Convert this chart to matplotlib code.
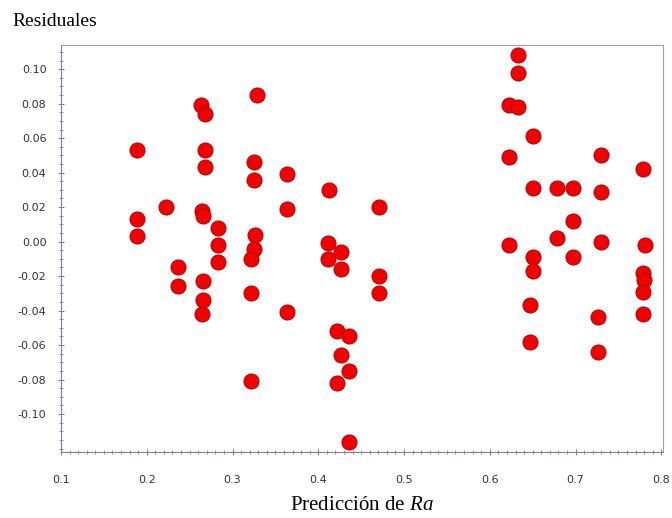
import numpy as np
import matplotlib.pyplot as plt
from matplotlib.ticker import MultipleLocator, FormatStrFormatter

plt.rcParams['axes.unicode_minus'] = False
plt.rcParams['mathtext.fontset'] = 'custom'
plt.rcParams['mathtext.it'] = 'Liberation Serif:italic'
plt.rcParams['mathtext.rm'] = 'Liberation Serif'

# predicted Ra and residuals
pred = [0.189, 0.189, 0.189, 0.223, 0.263, 0.268, 0.268, 0.268, 0.264, 0.266,
        0.283, 0.283, 0.283, 0.237, 0.237, 0.265, 0.265, 0.264,
        0.328, 0.325, 0.325, 0.326, 0.325, 0.322, 0.322, 0.322,
        0.363, 0.363, 0.363,
        0.412, 0.411, 0.427, 0.411, 0.427,
        0.422, 0.436, 0.427, 0.436, 0.422, 0.436,
        0.471, 0.471, 0.471,
        0.633, 0.633, 0.622, 0.633, 0.650, 0.622, 0.650, 0.678, 0.697,
        0.730, 0.730, 0.779, 0.697, 0.678, 0.622, 0.730, 0.781, 0.697,
        0.650, 0.650, 0.779, 0.780, 0.779, 0.779, 0.647, 0.726, 0.647, 0.726]
resid = [0.053, 0.013, 0.003, 0.020, 0.079, 0.074, 0.053, 0.043, 0.018, 0.015,
         0.008, -0.002, -0.012, -0.015, -0.026, -0.023, -0.034, -0.042,
         0.085, 0.046, 0.036, 0.004, -0.004, -0.010, -0.030, -0.081,
         0.039, 0.019, -0.041,
         0.030, -0.001, -0.006, -0.010, -0.016,
         -0.052, -0.055, -0.066, -0.075, -0.082, -0.116,
         0.020, -0.020, -0.030,
         0.108, 0.098, 0.079, 0.078, 0.061, 0.049, 0.031, 0.031, 0.031,
         0.050, 0.029, 0.042, 0.012, 0.002, -0.002, 0.000, -0.002, -0.009,
         -0.009, -0.017, -0.018, -0.022, -0.029, -0.042, -0.037, -0.044, -0.058, -0.064]

fig = plt.figure(figsize=(6.72, 5.18), dpi=100)
ax = fig.add_axes([0.0908, 0.1274, 0.8958, 0.7857])

ax.scatter(pred, resid, s=118, c='#f00000', edgecolors='#b80000', linewidths=0.7, zorder=3)

ax.set_xlim(0.1, 0.802)
ax.set_ylim(-0.122, 0.114)
ax.xaxis.set_major_locator(MultipleLocator(0.1))
ax.xaxis.set_minor_locator(MultipleLocator(0.01))
ax.yaxis.set_minor_locator(MultipleLocator(0.005))
ax.xaxis.set_major_formatter(FormatStrFormatter('%.1f'))
ax.yaxis.set_major_formatter(FormatStrFormatter('%.2f'))
ax.set_yticks(np.arange(-0.10, 0.101, 0.02))

for side in ['top', 'right']:
    ax.spines[side].set_color('#a0a0a8')
for side in ['left', 'bottom']:
    ax.spines[side].set_color('#8a7a98')
ax.tick_params(which='major', direction='inout', length=5, color='#8a7a98',
               labelsize=8, labelcolor='#333333', pad=8)
ax.tick_params(axis='x', which='major', pad=14)
ax.tick_params(which='minor', direction='inout', length=3, color='#8a7a98')

fig.text(12 / 672, 1 - 22 / 518, 'Residuales', family='Liberation Serif',
         fontsize=14, va='center', ha='left')
ax.set_xlabel('Predicción de $\\mathit{Ra}$', family='Liberation Serif', fontsize=15,
              labelpad=8)

fig.savefig('out.png', dpi=100)
